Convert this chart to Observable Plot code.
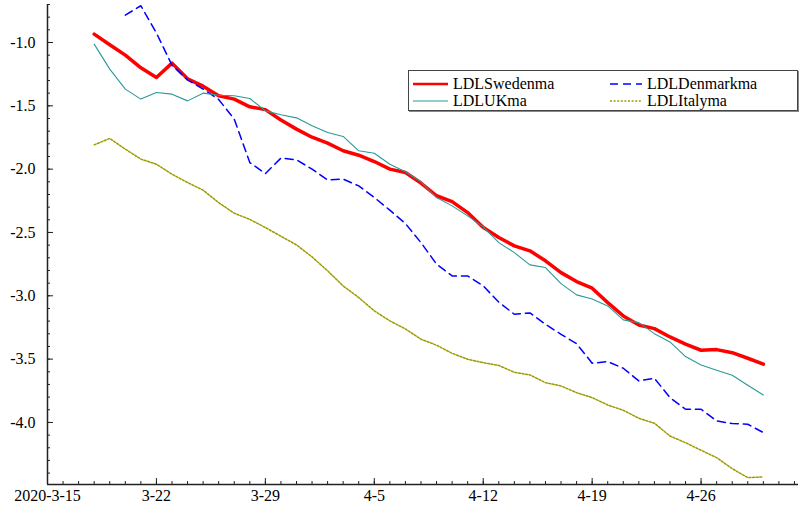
<!DOCTYPE html>
<html><head><meta charset="utf-8">
<script src="https://cdn.jsdelivr.net/npm/d3@7"></script>
<script src="https://cdn.jsdelivr.net/npm/@observablehq/plot@0.6"></script>
<style>
body{margin:0;background:#fff;}
#wrap{position:relative;width:799px;height:505px;font-family:"Liberation Serif","Times New Roman",serif;}
#legend{position:absolute;left:408px;top:70px;width:388px;height:39px;border:1px solid #444;box-shadow:1px 1px 0 #888;background:#fff;font-size:16px;color:#000;}
.item{position:absolute;display:flex;align-items:center;height:17px;line-height:17px;}
.item svg{margin-right:5px;display:block}
</style></head><body><div id="wrap"></div>
<script>
// ---- data ----
const seriesNames = ["LDLSwedenma", "LDLDenmarkma", "LDLUKma", "LDLItalyma"];
const seriesColors = ["#ff0000", "#0000ff", "#2a9a96", "#9c9c00"];
const seriesStart = ["2020-03-18", "2020-03-20", "2020-03-18", "2020-03-18"];

const sweden = [-0.934, -1.018, -1.100, -1.200, -1.276, -1.163, -1.287, -1.345, -1.421, -1.447,
  -1.508, -1.530, -1.612, -1.684, -1.748, -1.795, -1.855, -1.890, -1.940, -2.000,
  -2.027, -2.110, -2.210, -2.256, -2.343, -2.460, -2.540, -2.606, -2.645, -2.724,
  -2.817, -2.888, -2.940, -3.054, -3.159, -3.230, -3.259, -3.325, -3.382, -3.430,
  -3.425, -3.449, -3.493, -3.540];
const denmark = [-0.784, -0.710, -0.925, -1.180, -1.295, -1.368, -1.450, -1.605, -1.948, -2.035,
  -1.913, -1.926, -2.000, -2.085, -2.079, -2.132, -2.224, -2.324, -2.430, -2.580,
  -2.750, -2.843, -2.843, -2.922, -3.050, -3.146, -3.135, -3.225, -3.304, -3.378,
  -3.532, -3.520, -3.572, -3.672, -3.651, -3.804, -3.896, -3.896, -3.988, -4.009,
  -4.014, -4.080];
const uk = [-1.013, -1.210, -1.368, -1.447, -1.395, -1.408, -1.461, -1.400, -1.416, -1.421,
  -1.442, -1.540, -1.570, -1.595, -1.658, -1.711, -1.742, -1.855, -1.874, -1.961,
  -2.021, -2.100, -2.224, -2.290, -2.369, -2.456, -2.580, -2.659, -2.756, -2.777,
  -2.904, -2.993, -3.025, -3.080, -3.190, -3.212, -3.299, -3.364, -3.480, -3.546,
  -3.588, -3.627, -3.706, -3.783];
const italy = [-1.808, -1.758, -1.842, -1.921, -1.961, -2.040, -2.106, -2.166, -2.265, -2.348,
  -2.397, -2.461, -2.530, -2.598, -2.693, -2.803, -2.922, -3.014, -3.119, -3.198,
  -3.262, -3.343, -3.390, -3.454, -3.501, -3.528, -3.550, -3.604, -3.625, -3.686,
  -3.712, -3.765, -3.804, -3.862, -3.904, -3.967, -4.006, -4.107, -4.160, -4.220,
  -4.278, -4.365, -4.436, -4.430];

const xTickLabels = ["2020-3-15", "3-22", "3-29", "4-5", "4-12", "4-19", "4-26"];
const yMajorTicks = [-1.0, -1.5, -2.0, -2.5, -3.0, -3.5, -4.0];

// ---- build ----
const DAY = 86400000;
const t0 = Date.parse("2020-03-15T00:00:00Z");
const seriesValues = [sweden, denmark, uk, italy];
const rows = [];
seriesValues.forEach((vals, k) => {
  const s = Date.parse(seriesStart[k] + "T00:00:00Z");
  vals.forEach((v, i) => rows.push({date: new Date(s + i * DAY), value: v, series: seriesNames[k]}));
});
const majorDates = xTickLabels.map((_, i) => new Date(t0 + i * 7 * DAY));
const minorDates = d3.range(0, 49).map(i => new Date(t0 + i * DAY));
const yMinor = d3.range(-44, -6).map(i => i / 10);
const xDomain = [new Date(t0), new Date(t0 + 48.26 * DAY)];
const yDomain = [-4.49, -0.70];

const W = 799, H = 505, mL = 47, mR = 1, mT = 4, mB = 21;
const innerW = W - mL - mR, innerH = H - mT - mB;

const styleOf = {
  "LDLSwedenma": {strokeWidth: 3.5},
  "LDLDenmarkma": {strokeWidth: 1.5, strokeDasharray: "8,5"},
  "LDLUKma": {strokeWidth: 1.1},
  "LDLItalyma": {strokeWidth: 1.5, strokeDasharray: "2,1.6"}
};

const lineMarks = seriesNames.map((name, k) =>
  Plot.line(rows.filter(r => r.series === name), {
    x: "date", y: "value", stroke: seriesColors[k], strokeLinejoin: "round", ...styleOf[name]
  }));

const chart = Plot.plot({
  width: W, height: H,
  marginLeft: mL, marginRight: mR, marginTop: mT, marginBottom: mB,
  style: {fontFamily: '"Liberation Serif", "Times New Roman", serif', fontSize: "16px", color: "#000", background: "#fff"},
  x: {type: "utc", domain: xDomain},
  y: {domain: yDomain},
  marks: [
    Plot.tickX(minorDates, {x: d => d, insetTop: innerH - 3, stroke: "#222"}),
    Plot.tickX(majorDates, {x: d => d, insetTop: innerH - 6, stroke: "#222"}),
    Plot.tickY(yMinor, {y: d => d, insetRight: innerW - 3, stroke: "#222"}),
    Plot.tickY(yMajorTicks, {y: d => d, insetRight: innerW - 6, stroke: "#222"}),
    Plot.axisX(majorDates, {tickSize: 0, tickPadding: 5, label: null,
      tickFormat: (d) => xTickLabels[Math.round((d - t0) / (7 * DAY))]}),
    Plot.axisY(yMajorTicks, {tickSize: 0, tickPadding: 12, label: null, tickFormat: d => d.toFixed(1)}),
    Plot.ruleX([xDomain[0]], {stroke: "#222", strokeWidth: 1.5}),
    Plot.ruleY([yDomain[0]], {stroke: "#222", strokeWidth: 1.5}),
    ...lineMarks
  ]
});

const wrap = document.getElementById("wrap");
wrap.appendChild(chart);

// ---- legend (HTML overlay) ----
const legend = document.createElement("div");
legend.id = "legend";
const pos = [[4, 4, 35], [201, 4, 32], [4, 21, 35], [201, 21, 32]];
seriesNames.forEach((name, k) => {
  const [lx, ly, len] = pos[k];
  const st = styleOf[name];
  const item = document.createElement("div");
  item.className = "item";
  item.style.left = lx + "px";
  item.style.top = ly + "px";
  item.innerHTML = `<svg width="${len}" height="6"><line x1="0" y1="3" x2="${len}" y2="3" stroke="${seriesColors[k]}" stroke-width="${Math.min(st.strokeWidth, 2.5)}" ${st.strokeDasharray ? `stroke-dasharray="${st.strokeDasharray}"` : ""}/></svg><span>${name}</span>`;
  legend.appendChild(item);
});
wrap.appendChild(legend);
</script>
</body></html>
